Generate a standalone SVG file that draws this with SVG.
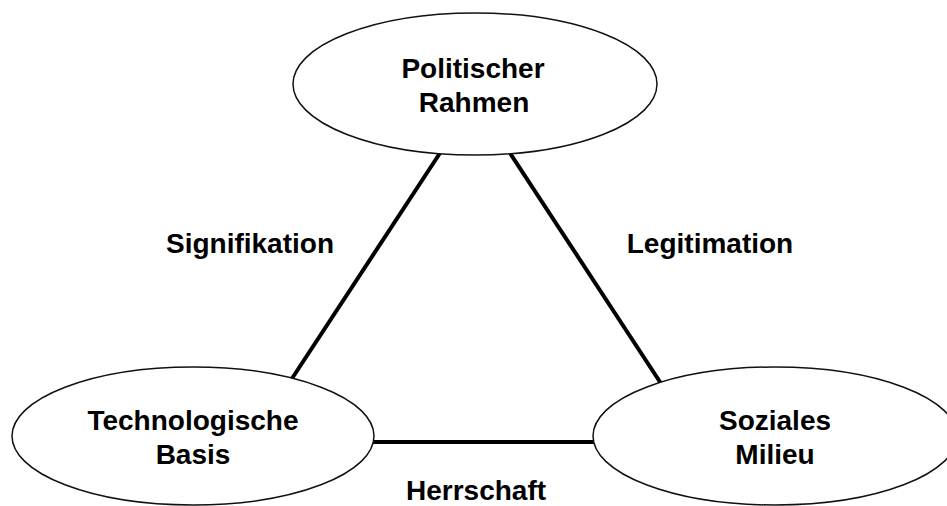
<svg xmlns="http://www.w3.org/2000/svg" width="947" height="506" viewBox="0 0 947 506">
<style>
.node ellipse{fill:#fff;stroke:#111;stroke-width:1.5}
.node text,.lbl{font-family:"Liberation Sans",Arial,sans-serif;font-weight:bold;font-size:28px;fill:#000;text-anchor:middle}
.edge{stroke:#000;stroke-width:4;fill:none}
</style>
<rect width="947" height="506" fill="#fff"/>
<g id="connectors">
<line class="edge" x1="442" y1="150" x2="291" y2="380"/>
<line class="edge" x1="508" y1="150" x2="662" y2="385"/>
<line class="edge" x1="370" y1="442" x2="598" y2="442"/>
</g>
<g id="politischer-rahmen" class="node">
<ellipse cx="475" cy="84" rx="182" ry="71"/>
<text x="473" y="78">Politischer</text>
<text x="474" y="112">Rahmen</text>
</g>
<g id="technologische-basis" class="node">
<ellipse cx="193" cy="436" rx="181" ry="69"/>
<text x="193" y="430">Technologische</text>
<text x="193" y="464">Basis</text>
</g>
<g id="soziales-milieu" class="node">
<ellipse cx="775" cy="436" rx="182" ry="69"/>
<text x="775" y="430">Soziales</text>
<text x="775" y="464">Milieu</text>
</g>
<g id="labels">
<text class="lbl" x="250" y="253">Signifikation</text>
<text class="lbl" x="710" y="253">Legitimation</text>
<text class="lbl" x="476" y="500">Herrschaft</text>
</g>
</svg>
